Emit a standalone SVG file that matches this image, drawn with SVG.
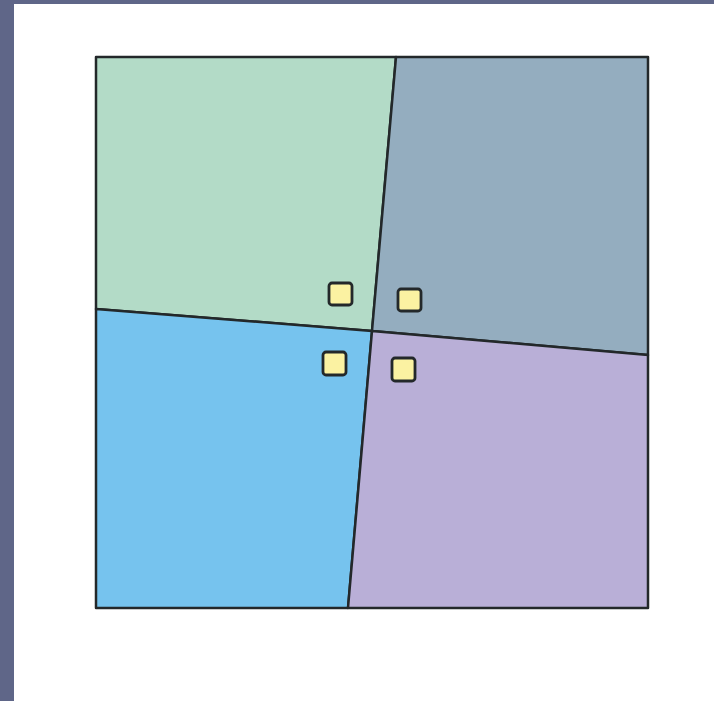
<svg xmlns="http://www.w3.org/2000/svg" width="714" height="701" viewBox="0 0 714 701">
<style>
.q{stroke:#23282a;stroke-width:2.5;stroke-linejoin:round}
.s{fill:#fbf2a2;stroke:#23282a;stroke-width:2.8}
</style>
<rect width="714" height="701" fill="#fff"/>
<rect x="0" y="0" width="714" height="4" fill="#5f6688"/>
<rect x="0" y="0" width="14" height="701" fill="#5f6688"/>
<g id="tl"><polygon class="q" fill="#b3dbc7" points="96,57 396,57 372,331 96,309"/></g>
<g id="tr"><polygon class="q" fill="#94adbf" points="396,57 648,57 648,355 372,331"/></g>
<g id="bl"><polygon class="q" fill="#76c3ee" points="96,309 372,331 348,608 96,608"/></g>
<g id="br"><polygon class="q" fill="#b9afd7" points="372,331 648,355 648,608 348,608"/></g>
<g id="sq1"><rect class="s" x="329" y="283" width="23" height="22" rx="3"/></g>
<g id="sq2"><rect class="s" x="398" y="289" width="23" height="22" rx="3"/></g>
<g id="sq3"><rect class="s" x="323" y="352" width="23" height="23" rx="3"/></g>
<g id="sq4"><rect class="s" x="392" y="358" width="23" height="23" rx="3"/></g>
</svg>
